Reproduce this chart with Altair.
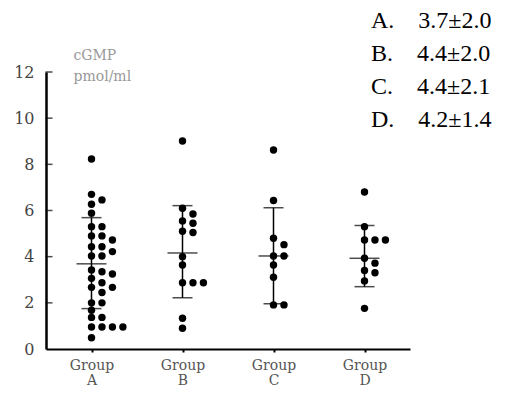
import altair as alt
import pandas as pd
import json

# ---------------- data ----------------
groups = ["A", "B", "C", "D"]
group_line2 = ["A", "B", "C", "D"]

values_A = [8.23, 6.70, 6.46, 6.27, 5.88, 5.30, 5.30, 4.90, 4.90, 4.72, 4.43, 4.43,
            4.22, 4.03, 4.03, 3.42, 3.35, 3.25, 3.06, 2.87, 2.67, 2.67, 2.45, 2.00,
            2.00, 1.68, 1.37, 1.37, 0.95, 0.95, 0.95, 0.95, 0.49]
values_B = [9.01, 6.10, 5.85, 5.55, 5.45, 5.10, 5.05, 4.00, 3.64, 2.87, 2.87, 2.87,
            1.33, 0.90]
values_C = [8.62, 6.43, 4.80, 4.52, 4.03, 4.03, 3.64, 3.11, 1.91, 1.91]
values_D = [6.80, 5.30, 4.72, 4.72, 4.72, 3.93, 3.72, 3.40, 3.30, 2.95, 1.76]

# drawn error bars
bar_mean = [3.69, 4.16, 4.03, 3.93]
bar_low = [1.75, 2.22, 1.96, 2.70]
bar_high = [5.69, 6.21, 6.12, 5.35]

# printed summary (top right)
legend_mean = ["3.7", "4.4", "4.4", "4.2"]
legend_sd = ["2.0", "2.0", "2.1", "1.4"]

y_ticks = [0, 2, 4, 6, 8, 10, 12]
y_title = ["cGMP", "pmol/ml"]


# ---------------- dot-plot layout: side-by-side placement of overlapping dots ----------------
def assign_slots(vals, d=0.3):
    placed, out = [], []
    for v in vals:
        s = 0
        while any(ps == s and abs(pv - v) < d - 1e-9 for ps, pv in placed):
            s += 1
        placed.append((s, v))
        out.append(s)
    return out


rows = []
for gi, vals in enumerate([values_A, values_B, values_C, values_D]):
    for v, s in zip(vals, assign_slots(vals)):
        rows.append({"gi": gi, "value": v, "slot": s})
pts = pd.DataFrame(rows)

legend_labels = [f"{g}.\u2002\u2002{m}±{s}" for g, m, s in zip(groups, legend_mean, legend_sd)]
bars = pd.DataFrame({"gi": list(range(4)), "mean": bar_mean, "low": bar_low,
                     "high": bar_high, "legend": legend_labels})

xs = alt.Scale(domain=[-0.5, 3.5], nice=False, zero=False)
ys = alt.Scale(domain=[0, 12], nice=False, zero=True)

label_expr = "['Group', " + json.dumps(group_line2) + "[datum.value]]"

x_axis = alt.Axis(values=[0, 1, 2, 3], labelExpr=label_expr, title=None, grid=False,
                  domainColor="black", domainWidth=2, ticks=True, tickSize=3,
                  tickColor="black", tickWidth=2, labelFont="DejaVu Serif",
                  labelFontSize=14, labelColor="#555", labelPadding=6,
                  labelLineHeight=15)
y_axis = alt.Axis(values=y_ticks, ticks=False, grid=False, domainColor="black",
                  domainWidth=2.5, labelFont="DejaVu Serif", labelFontSize=16,
                  labelColor="#444", labelPadding=12, title=y_title, titleAngle=0,
                  titleX=27, titleY=-24, titleAlign="left", titleBaseline="top",
                  titleFont="DejaVu Serif", titleFontSize=14,
                  titleFontWeight="normal", titleColor="#999", titleLineHeight=21)

dots = alt.Chart(pts).transform_calculate(
    xpos="datum.gi + datum.slot * 0.115"
).mark_circle(size=55, color="black", opacity=1).encode(
    x=alt.X("xpos:Q", scale=xs, axis=x_axis),
    y=alt.Y("value:Q", scale=ys, axis=y_axis),
)

inward_ticks = alt.Chart(pd.DataFrame({"t": y_ticks[1:]})).mark_tick(
    orient="horizontal", size=7, thickness=1.5, color="black"
).encode(y=alt.Y("t:Q", scale=ys), x=alt.value(3))

rule = alt.Chart(bars).mark_rule(color="black", strokeWidth=1.5).encode(
    x=alt.X("gi:Q", scale=xs), y=alt.Y("low:Q", scale=ys), y2="high:Q")
cap_low = alt.Chart(bars).mark_tick(orient="horizontal", size=20, thickness=1.5,
                                    color="black").encode(
    x=alt.X("gi:Q", scale=xs), y=alt.Y("low:Q", scale=ys))
cap_high = alt.Chart(bars).mark_tick(orient="horizontal", size=20, thickness=1.5,
                                     color="black").encode(
    x=alt.X("gi:Q", scale=xs), y=alt.Y("high:Q", scale=ys))
mean_tick = alt.Chart(bars).mark_tick(orient="horizontal", size=30,
                                      thickness=1.5).encode(
    x=alt.X("gi:Q", scale=xs), y=alt.Y("mean:Q", scale=ys),
    color=alt.Color("legend:N",
                    scale=alt.Scale(domain=legend_labels, range=["black"] * 4),
                    legend=alt.Legend(orient="none", legendX=301, legendY=-63,
                                      title=None, symbolOpacity=0, symbolSize=0,
                                      symbolStrokeWidth=0, labelOffset=0, padding=0,
                                      labelFont="Liberation Serif", labelFontSize=24,
                                      labelColor="black", labelLimit=400,
                                      rowPadding=9)),
)

chart = alt.layer(rule, cap_low, cap_high, mean_tick, dots, inward_ticks).properties(
    width=364, height=277,
    autosize=alt.AutoSizeParams(type="none"),
    padding={"left": 38, "top": 64, "right": 98, "bottom": 39},
).configure_view(stroke=None)

chart.save("out.html", embed_options={"renderer": "svg", "actions": False})
